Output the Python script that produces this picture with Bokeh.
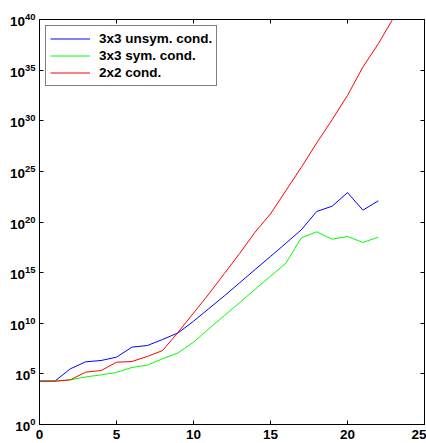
from bokeh.plotting import figure
from bokeh.models import FixedTicker, LogAxis, LinearAxis, CustomJSTickFormatter, Legend, LegendItem, LogTickFormatter
from bokeh.embed import file_html
from bokeh.resources import INLINE

# data (log10 of the condition numbers)
x_unsym = list(range(0, 23))
unsym_log = [4.28, 4.28, 5.5, 6.19, 6.32, 6.65, 7.64, 7.8, 8.4, 9.05, 10.2, 11.45,
             12.7, 14.0, 15.3, 16.6, 17.9, 19.23, 21.04, 21.56, 22.9, 21.17, 22.09]
x_sym = list(range(0, 23))
sym_log = [4.28, 4.28, 4.41, 4.7, 4.9, 5.14, 5.63, 5.86, 6.49, 7.08, 8.13, 9.45,
           10.75, 12.05, 13.35, 14.65, 15.93, 18.44, 19.03, 18.3, 18.57, 17.98, 18.5]
x_2x2 = list(range(0, 24))
cond2_log = [4.28, 4.28, 4.41, 5.17, 5.33, 6.15, 6.22, 6.72, 7.31, 9.12, 11.0, 12.9,
             14.9, 16.9, 19.0, 20.8, 23.1, 25.4, 27.8, 30.1, 32.5, 35.3, 37.6, 40.2]
labels = ["3x3 unsym. cond.", "3x3 sym. cond.", "2x2 cond."]
x_ticks = [0, 5, 10, 15, 20, 25]
y_tick_exps = [0, 5, 10, 15, 20, 25, 30, 35, 40]

FONT = "Liberation Sans"

p = figure(width=426, height=443, frame_width=385, frame_height=405,
           x_range=(0, 25), y_range=(1.0, 1e40), y_axis_type="log",
           output_backend="svg", toolbar_location=None,
           min_border_left=39, min_border_top=19, min_border_bottom=19, min_border_right=2)
p.background_fill_color = "white"
p.border_fill_color = "white"
p.outline_line_color = "black"
p.outline_line_width = 1
p.xgrid.visible = False
p.ygrid.visible = False

y_ticks = [10.0 ** k for k in y_tick_exps]
blank = CustomJSTickFormatter(code="return '';")

for ax in p.xaxis:
    ax.ticker = FixedTicker(ticks=x_ticks)
for ax in p.yaxis:
    ax.ticker = FixedTicker(ticks=y_ticks)
    ax.formatter = LogTickFormatter(min_exponent=0)

for ax in list(p.xaxis) + list(p.yaxis):
    ax.major_tick_in = 4
    ax.major_tick_out = 0
    ax.minor_tick_in = 0
    ax.minor_tick_out = 0
    ax.axis_line_color = "black"
    ax.major_tick_line_color = "black"
    ax.major_label_text_font = FONT
    ax.major_label_text_font_style = "bold"
    ax.major_label_text_font_size = "13.5px"
    ax.major_label_text_color = "black"
    ax.major_label_standoff = 4
for ax in p.xaxis:
    ax.major_label_standoff = 5

# box ticks on top and right
top = LinearAxis(ticker=FixedTicker(ticks=x_ticks), formatter=blank, major_tick_in=4, major_tick_out=0,
                 minor_tick_in=0, minor_tick_out=0,
                 major_label_standoff=0, axis_line_color="black")
right = LogAxis(ticker=FixedTicker(ticks=y_ticks), formatter=blank, major_tick_in=4, major_tick_out=0,
                minor_tick_in=0, minor_tick_out=0,
                major_label_standoff=0, axis_line_color="black")
p.add_layout(top, "above")
p.add_layout(right, "right")

r1 = p.line(x_unsym, [10.0 ** v for v in unsym_log], line_color="#0000ff", line_width=1)
r2 = p.line(x_sym, [10.0 ** v for v in sym_log], line_color="#00ff00", line_width=1)
r3 = p.line(x_2x2, [10.0 ** v for v in cond2_log], line_color="#ff0000", line_width=1)

legend = Legend(items=[LegendItem(label=labels[0], renderers=[r1]),
                       LegendItem(label=labels[1], renderers=[r2]),
                       LegendItem(label=labels[2], renderers=[r3])],
                location="top_left", margin=6, padding=4, spacing=0,
                glyph_width=40, glyph_height=17, label_height=17, label_standoff=9,
                label_text_font=FONT, label_text_font_style="bold",
                label_text_font_size="13.5px", label_text_color="black",
                border_line_color="black", border_line_width=1,
                background_fill_color="white", background_fill_alpha=1.0)
p.add_layout(legend, "center")

open("out.html", "w").write(file_html(p, INLINE))
